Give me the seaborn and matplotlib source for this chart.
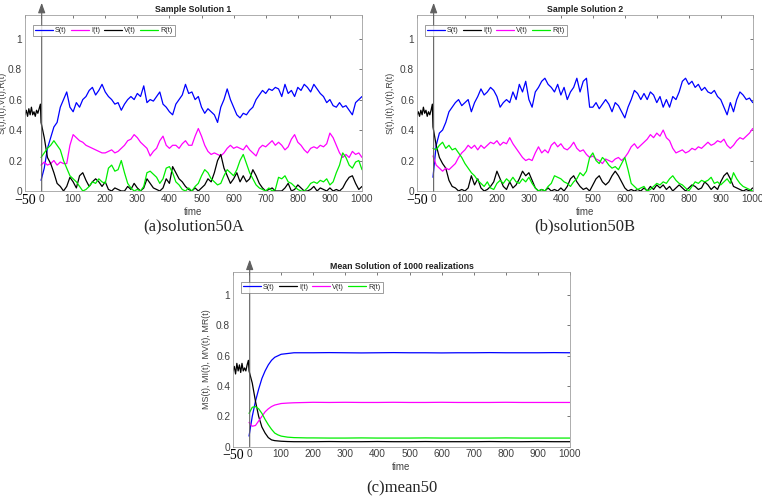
import numpy as np
import pandas as pd
import matplotlib
matplotlib.use("Agg")
import matplotlib.pyplot as plt
import seaborn as sns

# ---------------- data ----------------
t_main = list(range(0, 1001, 10))
t_hist = [-50, -46, -42, -38, -34, -30, -26, -22, -18, -14, -10, -6, -2]

# Sample solution 1
s1_S = [0.07, 0.15, 0.28, 0.35, 0.42, 0.45, 0.55, 0.60, 0.65, 0.55,
        0.52, 0.58, 0.55, 0.60, 0.62, 0.66, 0.68, 0.63, 0.66, 0.70,
        0.65, 0.62, 0.60, 0.57, 0.58, 0.53, 0.57, 0.60, 0.62, 0.60,
        0.64, 0.62, 0.69, 0.58, 0.60, 0.59, 0.62, 0.65, 0.57, 0.55,
        0.52, 0.50, 0.57, 0.60, 0.63, 0.70, 0.64, 0.65, 0.60, 0.62,
        0.55, 0.51, 0.54, 0.52, 0.50, 0.45, 0.55, 0.60, 0.67, 0.60,
        0.55, 0.50, 0.48, 0.51, 0.50, 0.53, 0.55, 0.60, 0.63, 0.66,
        0.64, 0.67, 0.66, 0.68, 0.67, 0.62, 0.70, 0.64, 0.66, 0.62,
        0.68, 0.66, 0.70, 0.68, 0.65, 0.70, 0.67, 0.64, 0.62, 0.58,
        0.60, 0.56, 0.55, 0.58, 0.55, 0.56, 0.53, 0.50, 0.58, 0.60, 0.62]
s1_I = [0.17, 0.19, 0.17, 0.18, 0.20, 0.17, 0.19, 0.18, 0.18, 0.30,
        0.37, 0.35, 0.33, 0.32, 0.30, 0.29, 0.28, 0.27, 0.26, 0.25,
        0.25, 0.26, 0.27, 0.25, 0.26, 0.28, 0.30, 0.33, 0.34, 0.37,
        0.35, 0.32, 0.30, 0.28, 0.23, 0.26, 0.28, 0.33, 0.36, 0.30,
        0.28, 0.30, 0.30, 0.28, 0.31, 0.33, 0.30, 0.30, 0.36, 0.41,
        0.36, 0.30, 0.26, 0.24, 0.25, 0.24, 0.23, 0.25, 0.28, 0.30,
        0.28, 0.29, 0.28, 0.27, 0.30, 0.27, 0.25, 0.23, 0.28, 0.30,
        0.29, 0.31, 0.33, 0.30, 0.32, 0.30, 0.27, 0.29, 0.34, 0.37,
        0.32, 0.30, 0.27, 0.25, 0.28, 0.29, 0.28, 0.30, 0.29, 0.31,
        0.38, 0.35, 0.30, 0.25, 0.22, 0.24, 0.22, 0.26, 0.24, 0.25, 0.22]
s1_V_hist = [0.50, 0.53, 0.49, 0.54, 0.50, 0.55, 0.50, 0.52, 0.49, 0.53, 0.51, 0.54, 0.57]
s1_V = [0.45, 0.35, 0.22, 0.18, 0.12, 0.05, 0.03, 0.00, 0.03, 0.09,
        0.06, 0.02, 0.10, 0.12, 0.07, 0.03, 0.06, 0.08, 0.06, 0.03,
        0.06, 0.01, 0.00, 0.02, 0.01, 0.00, 0.00, 0.03, 0.01, 0.05,
        0.02, 0.00, 0.02, 0.08, 0.05, 0.02, 0.01, 0.00, 0.02, 0.08,
        0.05, 0.16, 0.12, 0.08, 0.06, 0.03, 0.01, 0.00, 0.02, 0.00,
        0.02, 0.04, 0.08, 0.06, 0.12, 0.20, 0.24, 0.15, 0.10, 0.05,
        0.08, 0.12, 0.06, 0.10, 0.06, 0.08, 0.14, 0.10, 0.05, 0.02,
        0.00, 0.01, 0.02, 0.00, 0.00, 0.00, 0.02, 0.05, 0.00, 0.01,
        0.04, 0.02, 0.00, 0.00, 0.01, 0.03, 0.00, 0.02, 0.01, 0.00,
        0.02, 0.00, 0.01, 0.00, 0.02, 0.06, 0.09, 0.10, 0.05, 0.01, 0.03]
s1_R = [0.22, 0.25, 0.28, 0.30, 0.33, 0.30, 0.27, 0.20, 0.15, 0.10,
        0.08, 0.06, 0.03, 0.00, 0.01, 0.03, 0.06, 0.05, 0.08, 0.06,
        0.05, 0.15, 0.17, 0.13, 0.14, 0.20, 0.12, 0.05, 0.02, 0.00,
        0.01, 0.00, 0.03, 0.12, 0.13, 0.11, 0.09, 0.05, 0.08, 0.15,
        0.16, 0.12, 0.06, 0.04, 0.01, 0.00, 0.02, 0.00, 0.03, 0.05,
        0.10, 0.14, 0.12, 0.08, 0.06, 0.04, 0.05, 0.10, 0.14, 0.12,
        0.10, 0.14, 0.20, 0.24, 0.18, 0.12, 0.08, 0.04, 0.02, 0.01,
        0.00, 0.02, 0.00, 0.01, 0.09, 0.08, 0.10, 0.06, 0.05, 0.03,
        0.01, 0.00, 0.00, 0.02, 0.05, 0.06, 0.05, 0.07, 0.06, 0.08,
        0.04, 0.06, 0.12, 0.17, 0.25, 0.22, 0.17, 0.15, 0.19, 0.20, 0.14]

# Sample solution 2
s2_S = [0.09, 0.30, 0.38, 0.40, 0.45, 0.52, 0.55, 0.58, 0.60, 0.56,
        0.58, 0.60, 0.52, 0.58, 0.62, 0.67, 0.63, 0.65, 0.68, 0.66,
        0.62, 0.55, 0.58, 0.60, 0.58, 0.65, 0.60, 0.70, 0.65, 0.72,
        0.60, 0.55, 0.65, 0.68, 0.72, 0.74, 0.70, 0.68, 0.65, 0.70,
        0.63, 0.68, 0.60, 0.65, 0.68, 0.74, 0.65, 0.72, 0.74, 0.55,
        0.55, 0.58, 0.54, 0.57, 0.60, 0.57, 0.52, 0.58, 0.56, 0.52,
        0.48, 0.55, 0.60, 0.66, 0.64, 0.60, 0.64, 0.60, 0.65, 0.63,
        0.58, 0.62, 0.55, 0.60, 0.55, 0.62, 0.60, 0.65, 0.72, 0.74,
        0.70, 0.72, 0.68, 0.70, 0.66, 0.68, 0.65, 0.64, 0.66, 0.62,
        0.60, 0.55, 0.50, 0.58, 0.52, 0.60, 0.65, 0.63, 0.60, 0.61, 0.58]
s2_I_hist = [0.50, 0.52, 0.49, 0.53, 0.50, 0.55, 0.51, 0.53, 0.49, 0.52, 0.50, 0.53, 0.57]
s2_I = [0.42, 0.30, 0.22, 0.18, 0.15, 0.07, 0.03, 0.02, 0.00, 0.01,
        0.00, 0.02, 0.10, 0.04, 0.08, 0.02, 0.00, 0.01, 0.03, 0.06,
        0.13, 0.08, 0.03, 0.01, 0.06, 0.02, 0.04, 0.08, 0.13, 0.10,
        0.12, 0.07, 0.02, 0.00, 0.01, 0.00, 0.02, 0.00, 0.01, 0.00,
        0.02, 0.00, 0.03, 0.08, 0.10, 0.06, 0.03, 0.01, 0.02, 0.00,
        0.04, 0.08, 0.10, 0.06, 0.04, 0.06, 0.10, 0.13, 0.10, 0.06,
        0.02, 0.00, 0.01, 0.00, 0.01, 0.00, 0.02, 0.00, 0.03, 0.01,
        0.04, 0.02, 0.04, 0.01, 0.03, 0.00, 0.02, 0.04, 0.02, 0.00,
        0.02, 0.04, 0.03, 0.01, 0.02, 0.06, 0.04, 0.01, 0.03, 0.01,
        0.06, 0.10, 0.12, 0.08, 0.03, 0.02, 0.01, 0.00, 0.01, 0.00, 0.02]
s2_V = [0.23, 0.17, 0.15, 0.13, 0.15, 0.14, 0.16, 0.18, 0.22, 0.25,
        0.27, 0.30, 0.28, 0.30, 0.27, 0.30, 0.28, 0.30, 0.32, 0.31,
        0.33, 0.30, 0.32, 0.31, 0.35, 0.31, 0.28, 0.25, 0.22, 0.20,
        0.21, 0.20, 0.25, 0.29, 0.25, 0.27, 0.25, 0.30, 0.32, 0.29,
        0.31, 0.28, 0.27, 0.29, 0.32, 0.28, 0.26, 0.27, 0.24, 0.22,
        0.23, 0.21, 0.20, 0.18, 0.21, 0.20, 0.19, 0.21, 0.22, 0.20,
        0.22, 0.25, 0.29, 0.31, 0.28, 0.30, 0.32, 0.34, 0.37, 0.35,
        0.38, 0.36, 0.40, 0.35, 0.33, 0.28, 0.25, 0.26, 0.27, 0.25,
        0.26, 0.28, 0.27, 0.29, 0.28, 0.30, 0.32, 0.30, 0.31, 0.33,
        0.32, 0.34, 0.30, 0.28, 0.30, 0.33, 0.35, 0.34, 0.36, 0.38, 0.41]
s2_R = [0.28, 0.27, 0.30, 0.32, 0.28, 0.30, 0.27, 0.28, 0.25, 0.22,
        0.18, 0.15, 0.12, 0.10, 0.07, 0.05, 0.03, 0.06, 0.02, 0.01,
        0.05, 0.07, 0.05, 0.08, 0.06, 0.09, 0.06, 0.05, 0.08, 0.06,
        0.09, 0.05, 0.02, 0.00, 0.01, 0.00, 0.03, 0.05, 0.10, 0.09,
        0.08, 0.06, 0.05, 0.03, 0.06, 0.08, 0.12, 0.10, 0.13, 0.22,
        0.25, 0.20, 0.18, 0.22, 0.20, 0.17, 0.15, 0.16, 0.14, 0.18,
        0.22, 0.14, 0.05, 0.03, 0.01, 0.02, 0.03, 0.00, 0.01, 0.03,
        0.05, 0.04, 0.06, 0.05, 0.08, 0.10, 0.07, 0.05, 0.04, 0.02,
        0.00, 0.03, 0.06, 0.05, 0.07, 0.06, 0.07, 0.09, 0.05, 0.06,
        0.04, 0.06, 0.08, 0.05, 0.12, 0.08, 0.05, 0.03, 0.02, 0.01, 0.00]

# Mean of 1000 realizations
t_mean = [0, 10, 20, 30, 40, 50, 60, 70, 80, 90, 100, 120, 140, 160, 180, 200,
          250, 300, 350, 400, 450, 500, 550, 600, 650, 700, 750, 800, 850, 900, 950, 1000]
m_S = [0.07, 0.20, 0.30, 0.38, 0.45, 0.50, 0.54, 0.57, 0.59, 0.60, 0.61, 0.615, 0.62, 0.62, 0.62, 0.62,
       0.621, 0.62, 0.619, 0.62, 0.621, 0.62, 0.62, 0.619, 0.62, 0.62, 0.621, 0.62, 0.62, 0.62, 0.621, 0.62]
m_I_hist = [0.50, 0.53, 0.48, 0.55, 0.50, 0.54, 0.49, 0.55, 0.50, 0.52, 0.50, 0.54, 0.57]
m_I = [0.50, 0.42, 0.30, 0.20, 0.13, 0.09, 0.06, 0.045, 0.04, 0.038, 0.036, 0.034, 0.033, 0.033, 0.033, 0.033,
       0.034, 0.033, 0.033, 0.034, 0.033, 0.033, 0.034, 0.033, 0.033, 0.033, 0.034, 0.033, 0.033, 0.034, 0.033, 0.033]
m_V = [0.16, 0.135, 0.14, 0.17, 0.20, 0.23, 0.25, 0.265, 0.275, 0.28, 0.285, 0.288, 0.29, 0.291, 0.292, 0.293,
       0.292, 0.293, 0.292, 0.292, 0.293, 0.292, 0.292, 0.293, 0.292, 0.292, 0.292, 0.293, 0.292, 0.292, 0.292, 0.292]
m_R = [0.22, 0.26, 0.265, 0.25, 0.22, 0.18, 0.145, 0.115, 0.09, 0.078, 0.07, 0.063, 0.06, 0.059, 0.058, 0.058,
       0.057, 0.057, 0.058, 0.057, 0.057, 0.057, 0.058, 0.057, 0.057, 0.057, 0.057, 0.058, 0.057, 0.057, 0.057, 0.057]

xtick_vals = [-50, 0, 100, 200, 300, 400, 500, 600, 700, 800, 900, 1000]
ytick_vals = [0, 0.2, 0.4, 0.6, 0.8, 1]
ytick_labels = ["0", "0.2", "0.4", "0.6", "0.8", "1"]

# ---------------- style ----------------
sns.set_theme(style="white")
plt.rcParams["font.family"] = ["Liberation Sans", "DejaVu Sans"]

BLUE, MAG, BLK, GRN = "#0000ff", "#ff00ff", "#000000", "#00ee00"
TICKC = "#404040"

fig = plt.figure(figsize=(7.62, 4.96), dpi=100)
W, H = 762.0, 496.0


def px_axes(l, r, t, b):
    return fig.add_axes([l / W, 1 - b / H, (r - l) / W, (b - t) / H])


def draw(ax, series, title, ylabel, ylab_px):
    for tt, yy, col, lab in series:
        df = pd.DataFrame({"t": tt, "y": yy})
        sns.lineplot(data=df, x="t", y="y", ax=ax, color=col, lw=0.9,
                     label=lab, sort=False, estimator=None)
    ax.set_xlim(-50, 1000)
    ax.set_ylim(0, 1.155)
    ax.set_xticks(xtick_vals)
    ax.set_xticklabels(["\u221250"] + [str(v) for v in xtick_vals[1:]])
    ax.set_yticks(ytick_vals)
    ax.set_yticklabels(ytick_labels)
    ax.tick_params(direction="in", length=2.5, width=0.5, labelsize=7.3,
                   colors=TICKC, top=True, right=True, pad=2,
                   labeltop=False, labelright=False)
    lbl = ax.get_xticklabels()[0]
    lbl.set_fontfamily("Liberation Serif")
    lbl.set_fontsize(10)
    lbl.set_color("#000000")
    for sp in ax.spines.values():
        sp.set_color("#a0a0a0")
        sp.set_linewidth(0.6)
    ax.set_title(title, fontsize=6.3, fontweight="bold", pad=2, color="#202020")
    ax.set_xlabel("time", fontsize=7, color=TICKC, labelpad=0)
    ax.set_ylabel(ylabel, fontsize=6.4, color=TICKC)
    bb = ax.get_position()
    ax.yaxis.set_label_coords(ylab_px / (bb.width * W), 0.5)
    leg = ax.legend(loc="upper left", ncol=4, fontsize=5.2, frameon=True,
                    handlelength=2.4, handletextpad=0.35, columnspacing=0.6,
                    borderpad=0.3, bbox_to_anchor=(0.024, 0.943), fancybox=False,
                    borderaxespad=0)
    leg.get_frame().set_edgecolor("#707070")
    leg.get_frame().set_linewidth(0.6)
    for line in leg.get_lines():
        line.set_linewidth(0.9)
    ax.annotate("", xy=(2, 1.235), xytext=(2, 0), xycoords="data",
                arrowprops=dict(arrowstyle="-|>,head_length=0.5,head_width=0.18",
                                color="#606060", lw=0.8, shrinkA=0, shrinkB=0),
                annotation_clip=False)


ax1 = px_axes(25, 362, 15, 191)
draw(ax1, [(t_main, s1_S, BLUE, "S(t)"),
           (t_main, s1_I, MAG, "I(t)"),
           (t_hist + t_main, s1_V_hist + s1_V, BLK, "V(t)"),
           (t_main, s1_R, GRN, "R(t)")],
     "Sample Solution 1", "S(t),I(t),V(t),R(t)", -18)

ax2 = px_axes(417, 752.7, 15, 191)
draw(ax2, [(t_main, s2_S, BLUE, "S(t)"),
           (t_hist + t_main, s2_I_hist + s2_I, BLK, "I(t)"),
           (t_main, s2_V, MAG, "V(t)"),
           (t_main, s2_R, GRN, "R(t)")],
     "Sample Solution 2", "S(t),I(t),V(t),R(t)", -22)

ax3 = px_axes(233, 570, 271.7, 446.7)
draw(ax3, [(t_mean, m_S, BLUE, "S(t)"),
           (t_hist + t_mean, m_I_hist + m_I, BLK, "I(t)"),
           (t_mean, m_V, MAG, "V(t)"),
           (t_mean, m_R, GRN, "R(t)")],
     "Mean Solution of 1000 realizations", "MS(t), MI(t), MV(t), MR(t)", -22)

fig.text(193.5 / W, 1 - 226 / H, "(a)solution50A", ha="center", va="center",
         family="Liberation Serif", fontsize=12)
fig.text(585 / W, 1 - 226 / H, "(b)solution50B", ha="center", va="center",
         family="Liberation Serif", fontsize=12)
fig.text(401.5 / W, 1 - 488 / H, "(c)mean50", ha="center", va="center",
         family="Liberation Serif", fontsize=12)

fig.savefig("out.png", dpi=100)
